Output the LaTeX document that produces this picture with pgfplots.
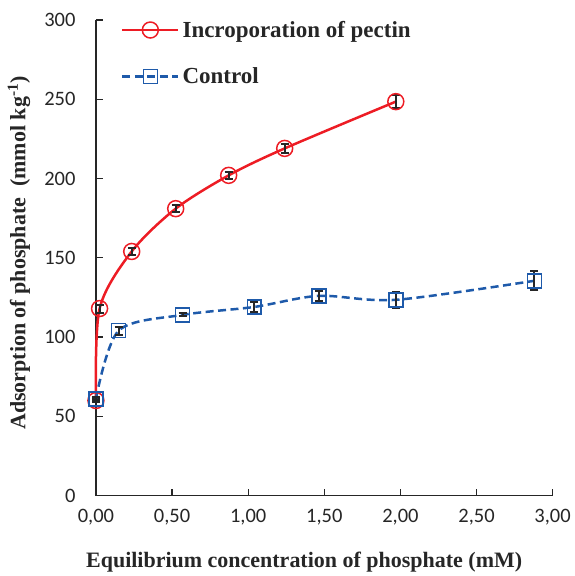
\documentclass[border=0pt]{standalone}
\usepackage{pgfplots}
\pgfplotsset{compat=1.18}
\usepackage{fontspec}
\setmainfont{Liberation Serif}
\newfontfamily\tickfont{Carlito}
\definecolor{pred}{RGB}{237,28,36}
\definecolor{cblue}{RGB}{30,90,170}
\begin{document}
\begin{tikzpicture}[x=1pt,y=1pt]
\begin{axis}[
  scale only axis, width=457pt, height=476pt,
  xmin=0, xmax=3, ymin=0, ymax=300,
  axis x line=bottom, axis y line=left,
  axis line style={-, line width=1.2pt, black!85},
  tick align=inside, major tick length=7pt,
  tick style={line width=1.2pt, black!85},
  xtick={0,0.5,...,3}, ytick={0,50,...,300},
  xticklabels={{0,00},{0,50},{1,00},{1,50},{2,00},{2,50},{3,00}},
  /pgf/number format/assume math mode=true,
  ticklabel style={font=\tickfont\fontsize{20.5}{23}\selectfont, text=black!85},
  xticklabel style={yshift=-10pt},
  yticklabel style={xshift=-17pt},
  xlabel={\textbf{Equilibrium concentration of phosphate (mM)}},
  ylabel={\textbf{Adsorption of phosphate\ \ (mmol kg\textsuperscript{-1})}},
  label style={font=\fontsize{22}{25}\selectfont, text=black!85},
  xlabel style={at={(axis description cs:0.456,0)}, anchor=center, yshift=-67pt},
  ylabel style={at={(axis description cs:0,0.51)}, anchor=center, yshift=77pt},
  legend style={at={(25pt,477pt)}, anchor=north west, draw=none, fill=none,
    font=\fontsize{23}{26}\selectfont\bfseries, text=black!85,
    row sep=25pt, legend cell align=left, inner sep=0pt,
    nodes={inner xsep=3pt}},
  legend image code/.code={
    \draw[#1] (0pt,0pt) -- (56pt,0pt);
    \draw[#1, solid] plot coordinates {(28pt,0pt)};
  },
  clip=false,
]
\path (rel axis cs:0,1) ++(0pt,20pt);
\path (rel axis cs:0,0) ++(-96pt,0pt);
\addplot+[pred, line width=2.5pt, smooth, mark=o, mark size=8pt,
  mark options={pred, line width=1.5pt, fill=none, solid},
  error bars/.cd, y dir=both, y explicit,
  error bar style={line width=2pt, black!85},
  error mark options={line width=2pt, black!85, mark size=4pt, rotate=90}]
coordinates {
 (0.0,60) +- (0,1)
 (0.024,118) +- (0,2.5)
 (0.235,154) +- (0,2)
 (0.524,181) +- (0,2)
 (0.872,202) +- (0,2)
 (1.24,219) +- (0,3)
 (1.97,248.5) +- (0,4)
};
\addlegendentry{Incroporation of pectin}
\addplot+[cblue, line width=2.5pt, dash pattern=on 8pt off 4.5pt, smooth, mark=square, mark size=7pt,
  mark options={cblue, line width=1.5pt, fill=none, solid},
  error bars/.cd, y dir=both, y explicit,
  error bar style={line width=2pt, black!85, solid},
  error mark options={line width=2pt, black!85, mark size=4pt, rotate=90, solid}]
coordinates {
 (0.0,61) +- (0,1.5)
 (0.149,104) +- (0,2.5)
 (0.57,114) +- (0,1)
 (1.04,119) +- (0,3)
 (1.465,126) +- (0,3)
 (1.97,123.5) +- (0,5)
 (2.88,135.5) +- (0,6)
};
\addlegendentry{Control}
\end{axis}
\end{tikzpicture}
\end{document}
